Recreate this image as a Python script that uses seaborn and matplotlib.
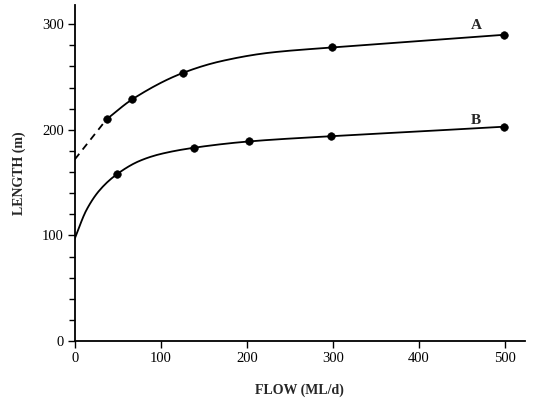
#!/usr/bin/env python3
"""Length vs. flow curves A and B, redrawn with seaborn."""

import matplotlib as mpl
import matplotlib.pyplot as plt
import numpy as np
import seaborn as sns

# ---------------------------------------------------------------------------
# Values
# ---------------------------------------------------------------------------
# measured points (markers)
A_FLOW = [37, 67, 126, 299, 499]
A_LENGTH = [210, 229, 254, 278, 290]
B_FLOW = [49, 138, 202, 298, 499]
B_LENGTH = [158, 183, 189, 194, 203]

# fitted curves (knots)
A_DASH_FLOW = [0, 37]
A_DASH_LENGTH = [172, 210]
A_CURVE_FLOW = [37, 67, 126, 170, 226, 299, 400, 499]
A_CURVE_LENGTH = [210, 229, 254, 265, 273, 278, 284, 290]
B_CURVE_FLOW = [0, 13.5, 29, 49, 75, 99, 138, 202, 298, 400, 499]
B_CURVE_LENGTH = [97, 124, 143, 158, 170.5, 177, 183, 189, 194, 198.5, 203]

X_TICKS = [0, 100, 200, 300, 400, 500]
Y_TICKS = [0, 100, 200, 300]


def _smooth(xs, ys, n=200):
    """Monotone cubic (Fritsch-Carlson) through the traced knots."""
    x = np.asarray(xs, dtype=float)
    y = np.asarray(ys, dtype=float)
    h = np.diff(x)
    d = np.diff(y) / h
    m = np.zeros_like(y)
    m[0], m[-1] = d[0], d[-1]
    for i in range(1, len(x) - 1):
        if d[i - 1] * d[i] > 0:
            w1 = 2 * h[i] + h[i - 1]
            w2 = h[i] + 2 * h[i - 1]
            m[i] = (w1 + w2) / (w1 / d[i - 1] + w2 / d[i])
    xf = np.linspace(x[0], x[-1], n)
    k = np.clip(np.searchsorted(x, xf) - 1, 0, len(x) - 2)
    t = (xf - x[k]) / h[k]
    h00 = 2 * t**3 - 3 * t**2 + 1
    h10 = t**3 - 2 * t**2 + t
    h01 = -2 * t**3 + 3 * t**2
    h11 = t**3 - t**2
    yf = h00 * y[k] + h10 * h[k] * m[k] + h01 * y[k + 1] + h11 * h[k] * m[k + 1]
    return xf, yf


sns.set_theme(style="ticks")
mpl.rcParams.update(
    {
        "font.family": ["Liberation Serif", "DejaVu Serif"],
        "axes.edgecolor": "black",
        "axes.linewidth": 1.3,
        "xtick.color": "black",
        "ytick.color": "black",
        "xtick.major.width": 1.0,
        "ytick.major.width": 1.0,
        "ytick.minor.width": 1.0,
    }
)

fig = plt.figure(figsize=(5.34, 3.99), dpi=100)
ax = fig.add_axes([0.140, 0.145, 0.843, 0.842])

line_kw = dict(color="black", linewidth=1.3, ax=ax, legend=False)

ax_x, ax_y = _smooth(A_CURVE_FLOW, A_CURVE_LENGTH)
sns.lineplot(x=ax_x, y=ax_y, **line_kw)
sns.lineplot(x=A_DASH_FLOW, y=A_DASH_LENGTH, linestyle=(0, (4, 3)), **line_kw)
bx, by = _smooth(B_CURVE_FLOW, B_CURVE_LENGTH)
sns.lineplot(x=bx, y=by, **line_kw)

sns.scatterplot(x=A_FLOW, y=A_LENGTH, color="black", s=30, edgecolor="black", zorder=3, ax=ax)
sns.scatterplot(x=B_FLOW, y=B_LENGTH, color="black", s=30, edgecolor="black", zorder=3, ax=ax)

ax.text(466, 299, "A", fontsize=11, fontweight="bold", ha="center", va="center")
ax.text(466, 209, "B", fontsize=11, fontweight="bold", ha="center", va="center")

ax.set_xlim(0, 523)
ax.set_ylim(0, 318)
ax.set_xticks(X_TICKS)
ax.set_yticks(Y_TICKS)
ax.yaxis.set_minor_locator(mpl.ticker.MultipleLocator(20))
ax.tick_params(axis="both", which="major", labelsize=10.5, length=5, pad=3)
ax.tick_params(axis="y", which="minor", length=4)
sns.despine(ax=ax)

ax.set_xlabel("FLOW (ML/d)", fontsize=10, fontweight="bold", labelpad=13)
ax.set_ylabel("LENGTH (m)", fontsize=10, fontweight="bold", labelpad=11)

fig.savefig("out.png", dpi=100, facecolor="white")
